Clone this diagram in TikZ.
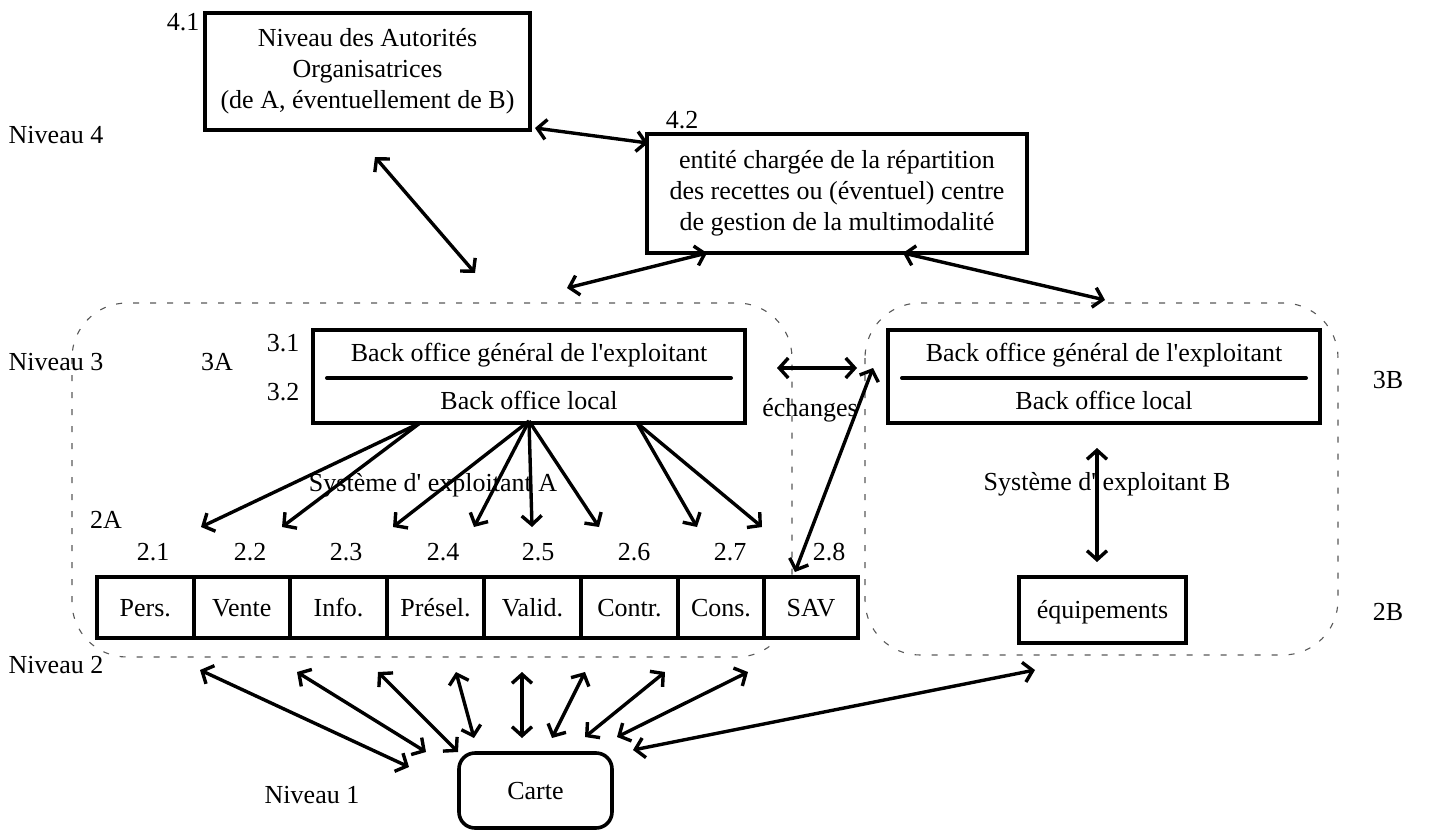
\documentclass[tikz,border=0pt]{standalone}
\usepackage{fontspec}
\setmainfont{Liberation Serif}[Ligatures=TeXOff]
\usetikzlibrary{arrows.meta,calc}
\begin{document}
\begin{tikzpicture}[x=1pt,y=-1pt,
  every node/.style={font=\fontsize{26}{31}\selectfont, inner sep=0pt, outer sep=0pt},
  lab/.style={text height=19pt, text depth=2pt},
  box/.style={draw, line width=4pt, fill=white, align=center},
  zone/.style={draw=black!65, line width=1.1pt, dash pattern=on 6pt off 11pt, rounded corners=55pt},
  link/.style={line width=3.4pt, {Straight Barb[length=9pt,width=20pt]}-{Straight Barb[length=9pt,width=20pt]}},
  feed/.style={line width=3.4pt, -{Straight Barb[length=9pt,width=20pt]}},
]
\useasboundingbox (0,0) rectangle (1433,830);

% operator systems A and B (dotted zones)
\draw[zone] (72,303) rectangle (792,657);
\draw[zone] (865,303) rectangle (1338,655);

% level 4
\node[box, minimum width=325pt, minimum height=117pt] (auth) at (367.5,71.5)
  {Niveau des Autorités\\Organisatrices\\(de A, éventuellement de B)};
\node[box, minimum width=380pt, minimum height=119pt] (ent) at (837,193.5)
  {entité chargée de la répartition\\des recettes ou (éventuel) centre\\de gestion de la multimodalité};
\node[lab] (l41) at (183,22) {4.1};
\node[lab] (l42) at (682,120) {4.2};
\node[lab] (niv4) at (56,135) {Niveau 4};

% level 3: back offices
\node[box, minimum width=432pt, minimum height=93pt] (boA) at (529,376.5) {};
\node[lab] (boAg) at (529,353) {Back office général de l'exploitant};
\node[lab] (boAl) at (529,401) {Back office local};
\draw[line width=4pt, line cap=round] ($(boA.west)+(14,1.5)$) -- ($(boA.east)+(-14,1.5)$);

\node[box, minimum width=432pt, minimum height=93pt] (boB) at (1104,376.5) {};
\node[lab] (boBg) at (1104,353) {Back office général de l'exploitant};
\node[lab] (boBl) at (1104,401) {Back office local};
\draw[line width=4pt, line cap=round] ($(boB.west)+(14,1.5)$) -- ($(boB.east)+(-14,1.5)$);

\node[lab] (niv3) at (56,362) {Niveau 3};
\node[lab] (l3A) at (217,362) {3A};
\node[lab] (l31) at (283,343) {3.1};
\node[lab] (l32) at (283,392) {3.2};
\node[lab] (l3B) at (1388,380) {3B};
\node[lab] (ech) at (810,408) {échanges};
\node[lab] (sysA) at (433,483) {Système d' exploitant A};
\node[lab] (sysB) at (1107,482) {Système d' exploitant B};

% level 2: functions of A, equipment of B
\foreach \n/\a/\b/\t in {pers/97/193.5/Pers., vente/193.5/290/Vente, info/290/387/Info.,
    presel/387/484/Présel., valid/484/581/Valid., contr/581/678/Contr.,
    cons/678/764/Cons., sav/764/858/SAV}
  \node[box, lab, minimum width={\b-\a}, minimum height=61pt] (\n) at ({(\a+\b)/2},607.5) {\t};
\node[box, lab, minimum width=167pt, minimum height=66pt] (equip) at (1102.5,610) {équipements};

\node[lab] (l2A) at (106,520) {2A};
\foreach \x/\t in {153/2.1, 250/2.2, 346/2.3, 443/2.4, 538/2.5, 634/2.6, 730/2.7, 829/2.8}
  \node[lab] at (\x,552) {\t};
\node[lab] (l2B) at (1388,612) {2B};
\node[lab] (niv2) at (56,665) {Niveau 2};

% level 1: the card
\node[lab, draw, line width=3.6pt, rounded corners=16pt, minimum width=153pt, minimum height=75pt] (carte) at (535.5,790.5) {Carte};
\node[lab] (niv1) at (312,795) {Niveau 1};

% connector end points
\coordinate (authE) at (535,128);
\coordinate (entW) at (648,143);
\coordinate (authS) at (375,157);
\coordinate (zoneAn) at (475,273);
\coordinate (entSW) at (707,253);
\coordinate (zoneAne) at (567,288);
\coordinate (entSE) at (903,253);
\coordinate (zoneBn) at (1105,300);
\coordinate (echL) at (777,368);
\coordinate (echR) at (857,368);
\coordinate (savN) at (795,572);
\coordinate (boBw) at (873,368);
\coordinate (boBs) at (1097,448);
\coordinate (equipN) at (1097,562);
\coordinate (fA1) at (420,423);
\coordinate (fA2) at (529,421);
\coordinate (fA3) at (637,423);

% level 4 links
\draw[link] (authE) -- (entW);
\draw[link] (authS) -- (zoneAn);
\draw[link] (entSW) -- (zoneAne);
\draw[link] (entSE) -- (zoneBn);

% exchanges between operators
\draw[link] (echL) -- (echR);
\draw[link] (savN) -- (boBw);
\draw[link] (boBs) -- (equipN);

% back office A towards its functions
\foreach \s/\x in {fA1/201, fA1/282, fA2/393, fA2/474, fA2/532, fA2/599, fA3/697, fA3/762}
  \draw[feed] (\s) -- (\x,527);

% card exchanges
\foreach \a/\b/\c/\d in {200/670/409/767, 297/672/426/752, 378/672/458/752, 456/672/474/738,
    522/672/522/738, 585/672/552/738, 665/672/585/737, 748/672/617/737, 1035/670/633/750}
  \draw[link] (\a,\b) -- (\c,\d);
\end{tikzpicture}
\end{document}
